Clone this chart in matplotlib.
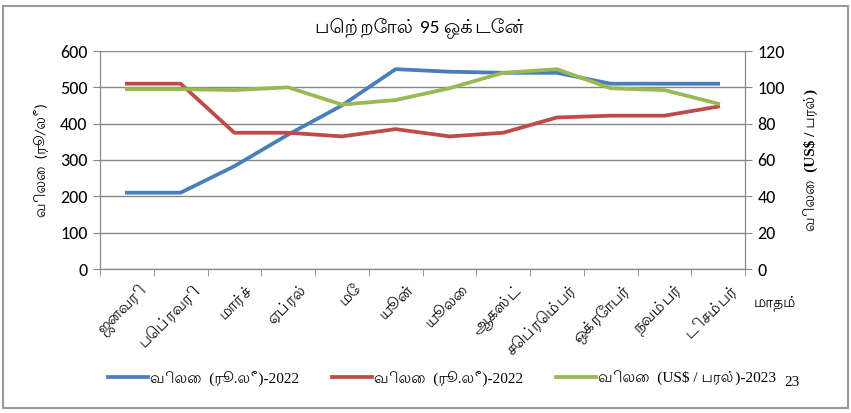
import matplotlib
matplotlib.use('Agg')
import matplotlib.pyplot as plt
from matplotlib import font_manager as fm
from matplotlib.patches import Rectangle
from matplotlib.transforms import ScaledTranslation


def pick(*names):
    for n in names:
        try:
            fm.findfont(fm.FontProperties(family=n), fallback_to_default=False)
            return n
        except Exception:
            pass
    return 'DejaVu Sans'


num_font = pick('Carlito', 'Liberation Sans Narrow', 'Liberation Sans')
tamil_font = pick('Lohit Tamil', 'Noto Sans Tamil', 'Hind Madurai', 'FreeSans')
serif_font = pick('Liberation Serif', 'DejaVu Serif')

months = ['ஜனவரி', 'பெப்ரவரி', 'மார்ச்', 'ஏப்ரல்', 'மே', 'யூன்', 'யூலை',
          'ஆகஸ்ட்', 'செப்ரெம்பர்', 'ஒக்ரோபர்', 'நவம்பர்', 'டிசம்பர்']
price_rs_2022 = [210, 210, 283, 370, 450, 550, 543, 540, 540, 510, 510, 510]
price_rs_2023 = [510, 510, 375, 375, 365, 385, 365, 375, 417, 422, 422, 447]
price_usd = [99, 99, 98.5, 100, 90.5, 93, 99.5, 108, 110, 99.5, 98.5, 91]

plt.rcParams['font.family'] = [num_font, tamil_font, 'DejaVu Sans']
serif_fam = [serif_font, tamil_font, 'DejaVu Sans']

fig = plt.figure(figsize=(8.51, 4.13), dpi=100)
ax = fig.add_axes([100/851, 1-269/413, 645/851, 218/413])
ax2 = ax.twinx()
x = list(range(12))
l1, = ax.plot(x, price_rs_2022, color='#4A7EBB', lw=2.7, label='விலை  (ரூ.லீ)-2022')
l2, = ax.plot(x, price_rs_2023, color='#BE4B48', lw=2.7, label='விலை  (ரூ.லீ)-2022')
l3, = ax2.plot(x, price_usd, color='#98B954', lw=2.7, label='விலை  (US$ / பரல்)-2023')

ax.set_xlim(-0.5, 11.5)
ax.set_ylim(0, 600)
ax2.set_ylim(0, 120)
ax.set_yticks(range(0, 601, 100))
ax2.set_yticks(range(0, 121, 20))
ax.grid(axis='y', color='#868686', lw=1)
ax.set_axisbelow(True)
ax.set_xticks(x)
ax.set_xticklabels(months, rotation=45, ha='right', rotation_mode='anchor', fontsize=11.5)
ax.tick_params(axis='x', length=0, pad=9)
shift = ScaledTranslation(12/100, 0, fig.dpi_scale_trans)
for lab in ax.get_xticklabels():
    lab.set_transform(lab.get_transform() + shift)
ax.set_xticks([i - 0.5 for i in range(13)], minor=True)
ax.tick_params(axis='x', which='minor', length=5, color='#868686')
for a in (ax, ax2):
    for s in a.spines.values():
        s.set_color('#868686')
    a.spines['top'].set_visible(False)
    a.tick_params(axis='y', length=5, color='#868686', labelsize=13, pad=4)

ax.set_ylabel('விலை  (ரூ/லீ)', fontsize=11, labelpad=8)
ax2.set_ylabel('விலை  (US$ / பரல்)', fontsize=11, rotation=90, labelpad=14,
               family=serif_fam, fontweight='bold')
fig.text(420/851, 1-28/413, 'பெற்றோல் 95 ஒக்டேன்', ha='center', va='center', fontsize=14)
fig.text(776/851, 1-303/413, 'மாதம்', ha='center', va='center', fontsize=11)
fig.text(792/851, 1-383/413, '23', ha='center', va='center', fontsize=11, family=serif_fam)
leg = fig.legend(handles=[l1, l2, l3], loc='center', bbox_to_anchor=(442/851, 1-378/413),
                 ncol=3, frameon=False, prop={'family': serif_fam, 'size': 11},
                 handlelength=2.6, handletextpad=0.1, columnspacing=2.2)
fig.patches.append(Rectangle((3/851, 5/413), 845/851, 402/413, transform=fig.transFigure,
                             fill=False, edgecolor='#9a9a9a', lw=1.5))
fig.savefig('out.png', dpi=100)
